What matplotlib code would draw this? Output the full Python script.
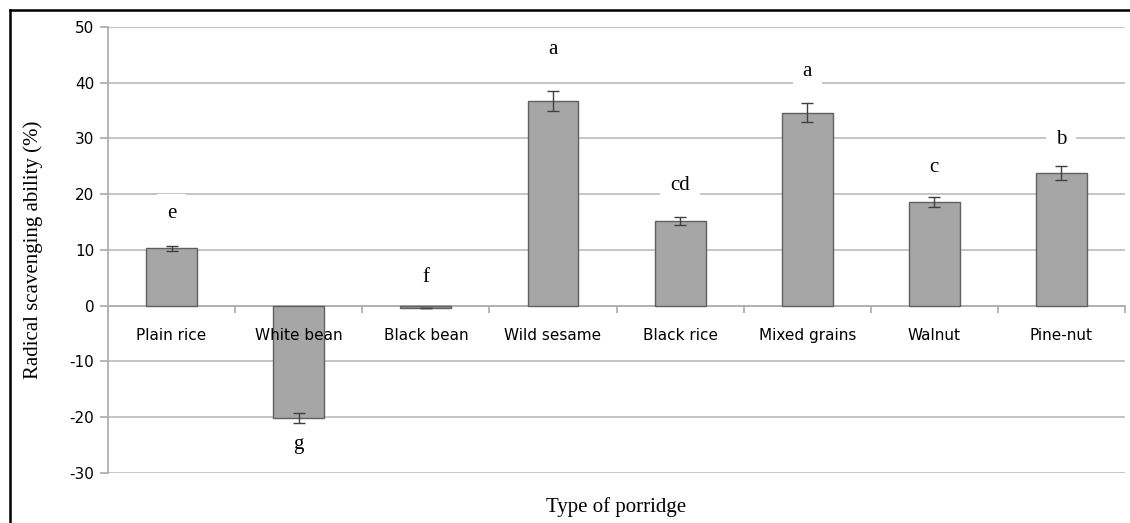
import matplotlib
matplotlib.use("Agg")
import matplotlib.pyplot as plt
from matplotlib.lines import Line2D

plt.rcParams["axes.unicode_minus"] = False

# data
categories = ["Plain rice", "White bean", "Black bean", "Wild sesame",
              "Black rice", "Mixed grains", "Walnut", "Pine-nut"]
values = [10.3, -20.2, -0.4, 36.7, 15.2, 34.6, 18.6, 23.8]
errors = [0.5, 0.9, 0.0, 1.8, 0.7, 1.7, 0.9, 1.2]
letters = ["e", "g", "f", "a", "cd", "a", "c", "b"]
letter_y = [16.5, -24.8, 5.1, 46.0, 21.5, 42.0, 24.8, 29.8]

fig = plt.figure(figsize=(11.3, 5.23), dpi=100)
ax = fig.add_axes([0.0956, 0.0956, 0.9, 0.8528])

x = range(len(categories))
ax.bar(x, values, width=0.4, color="#a6a6a6", edgecolor="#606060",
       linewidth=1.0, zorder=3)
ax.errorbar(x, values, yerr=errors, fmt="none", ecolor="#404040",
            elinewidth=1.0, capsize=4, capthick=1.0, zorder=4)

for xi, lab, ly in zip(x, letters, letter_y):
    ax.text(xi, ly, lab, ha="center", va="center", fontsize=15,
            family="Liberation Serif", zorder=5,
            bbox=dict(facecolor="white", edgecolor="none", pad=7))

ax.set_xlim(-0.5, len(categories) - 0.5)
ax.set_ylim(-30, 50)
ax.set_yticks(range(-30, 51, 10))

# grid and axes styling (Excel look)
ax.yaxis.grid(True, color="#c0c0c0", linewidth=1.3, zorder=0)
ax.set_axisbelow(True)
ax.xaxis.set_zorder(5)  # category names sit on top of the bars
for s in ["top", "right"]:
    ax.spines[s].set_visible(False)
ax.spines["left"].set_color("#b0b0b0")
ax.spines["left"].set_linewidth(1.3)
ax.spines["bottom"].set_position(("data", 0))
ax.spines["bottom"].set_color("#b0b0b0")
ax.spines["bottom"].set_linewidth(1.3)

ax.set_xticks(list(x))
ax.set_xticklabels(categories, fontsize=11, family="DejaVu Sans")
ax.set_xticks([i + 0.5 for i in range(-1, len(categories))], minor=True)
ax.tick_params(axis="x", which="major", length=0, pad=16)
ax.tick_params(axis="x", which="minor", length=5, color="#b0b0b0", width=1.3)
ax.tick_params(axis="y", length=6, color="#b0b0b0", width=1.3, pad=4,
               labelsize=11)

ax.set_ylabel("Radical scavenging ability (%)", fontsize=15,
              family="Liberation Serif", labelpad=19)
fig.text(0.545, 0.03, "Type of porridge", ha="center", va="center",
         fontsize=15, family="Liberation Serif")

# outer frame (top and left edges of the cropped picture)
fig.add_artist(Line2D([10 / 1130, 1], [1 - 10 / 523, 1 - 10 / 523],
                      transform=fig.transFigure, color="black", linewidth=1.8))
fig.add_artist(Line2D([10 / 1130, 10 / 1130], [0, 1 - 10 / 523],
                      transform=fig.transFigure, color="black", linewidth=1.8))

fig.savefig("out.png", dpi=100)
